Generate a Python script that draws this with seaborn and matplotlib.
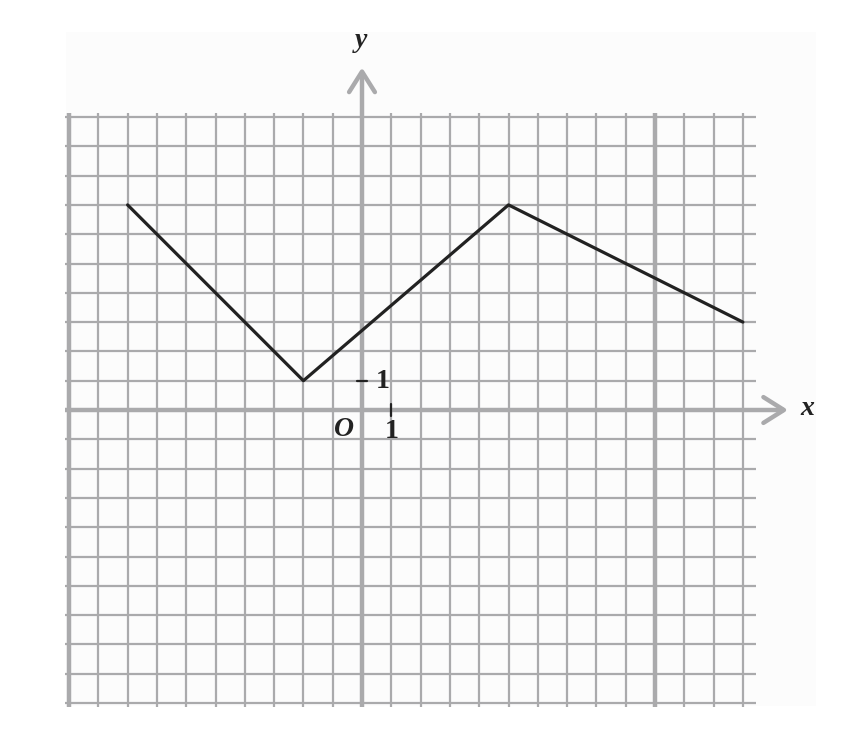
import numpy as np
import pandas as pd
import seaborn as sns
import matplotlib.pyplot as plt

# Piecewise-linear graph
x_vals = [-8, -2, 5, 13]
y_vals = [7, 1, 7, 3]

sns.set_theme(style="white")
plt.rcParams['font.family'] = ['Liberation Serif', 'DejaVu Serif']

# pixel mapping: origin at (362, 410), 29.3 px per unit
px = 29.3
W, H = 855, 731
ox, oy = 362, 410

fig = plt.figure(figsize=(W / 100, H / 100), dpi=100)
ax = fig.add_axes([0, 0, 1, 1])
ax.set_xlim(-ox / px, (W - ox) / px)
ax.set_ylim(-(H - oy) / px, oy / px)
ax.set_axis_off()

grid_c = "#aaaaac"

# faint panel behind the grid
ax.add_patch(plt.Rectangle((-10.1, -10.1), 25.6, 23.0, color="#fcfcfc", zorder=0, lw=0))

# grid
for gx in range(-10, 14):
    if gx == 0:
        continue
    lw = 3.2 if gx in (-10, 10) else 1.6
    ax.plot([gx, gx], [-10.12, 10.12], color=grid_c, lw=lw, zorder=1, solid_capstyle="butt")
for gy in range(-10, 11):
    if gy == 0:
        continue
    ax.plot([-10.12, 13.45], [gy, gy], color=grid_c, lw=1.6, zorder=1, solid_capstyle="butt")

# axes with chevron arrows
ax.plot([-10.12, 14.4], [0, 0], color=grid_c, lw=3.2, zorder=2, solid_capstyle="butt")
ax.plot([13.7, 14.4, 13.7], [0.44, 0, -0.44], color=grid_c, lw=3.2, zorder=2)
ax.plot([0, 0], [-10.12, 11.55], color=grid_c, lw=3.2, zorder=2, solid_capstyle="butt")
ax.plot([-0.44, 0, 0.44], [10.85, 11.55, 10.85], color=grid_c, lw=3.2, zorder=2)

# the graph
df = pd.DataFrame({"x": x_vals, "y": y_vals})
sns.lineplot(data=df, x="x", y="y", ax=ax, color="#222222", lw=2.3, sort=False,
             estimator=None, zorder=5)
ax.set_xlabel("")
ax.set_ylabel("")
ax.set_axis_off()

# unit ticks
ax.plot([-0.18, 0.18], [1, 1], color="#222222", lw=1.6, zorder=6)
ax.plot([1, 1], [0.2, -0.2], color="#222222", lw=1.6, zorder=6)

txt = dict(fontsize=20, color="#222222", ha="center", va="center", zorder=7)
ax.text(0.72, 0.98, "1", fontweight="bold", **txt)
ax.text(1.02, -0.72, "1", fontweight="bold", **txt)
ax.text(-0.62, -0.68, "O", fontweight="bold", fontstyle="italic", **txt)
ax.text(-0.05, 12.6, "y", fontweight="bold", fontstyle="italic", **txt)
ax.text(15.2, 0.05, "x", fontweight="bold", fontstyle="italic", **txt)

fig.savefig("out.png", dpi=100, facecolor="white")
